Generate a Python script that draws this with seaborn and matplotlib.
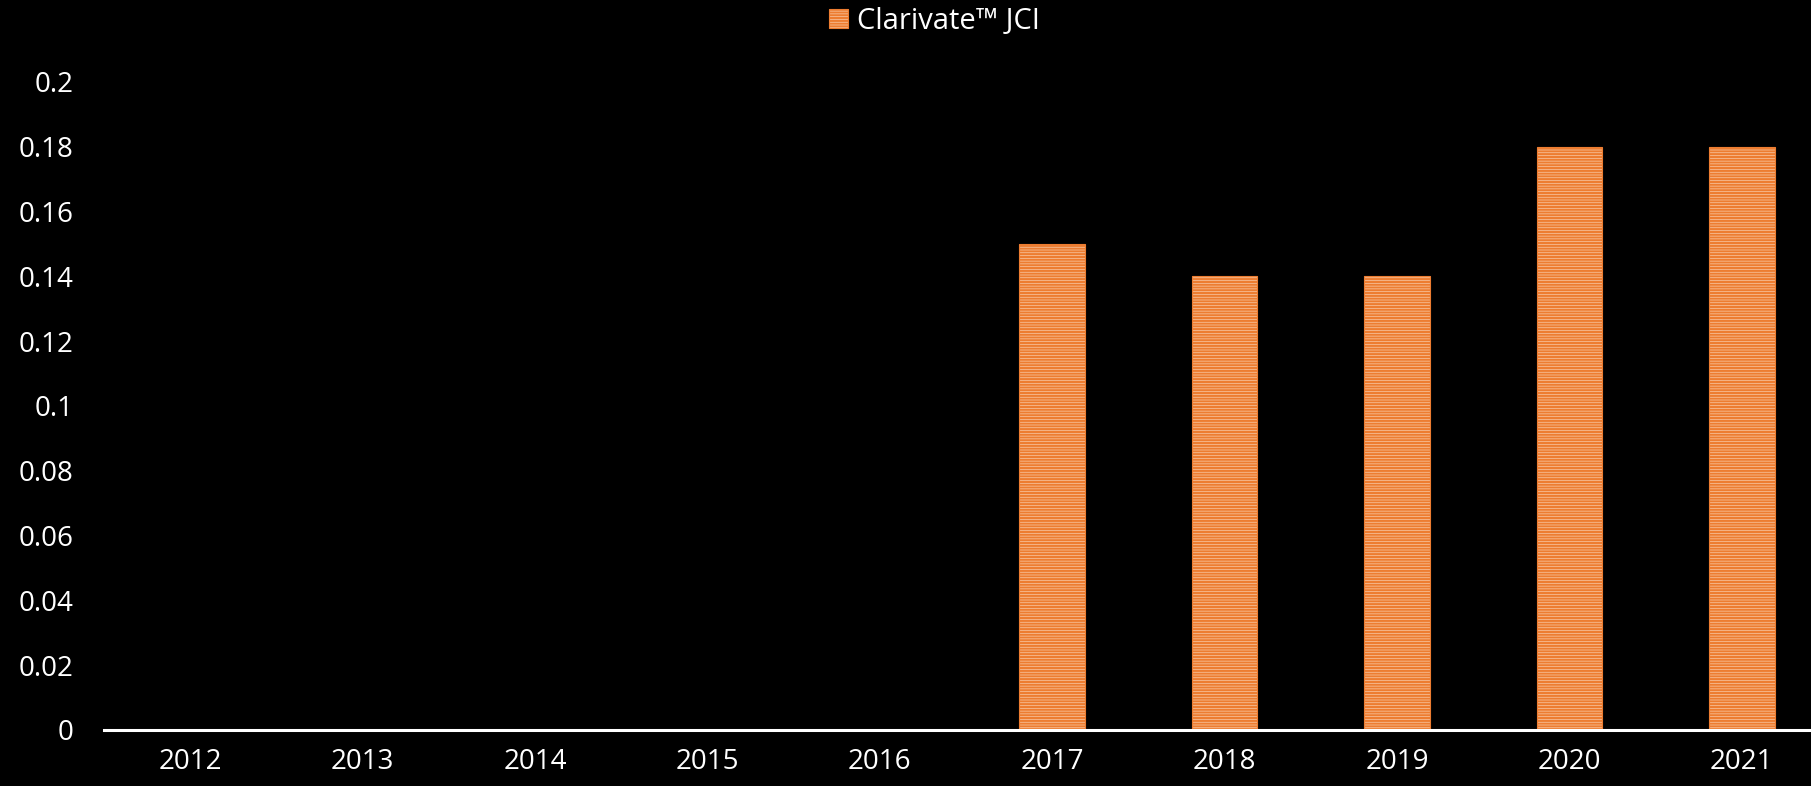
import matplotlib.pyplot as plt
import seaborn as sns
from matplotlib.ticker import FuncFormatter, MultipleLocator
from matplotlib.patches import Patch

# data
years = ["2012", "2013", "2014", "2015", "2016", "2017", "2018", "2019", "2020", "2021"]
jci = [0, 0, 0, 0, 0, 0.15, 0.14, 0.14, 0.18, 0.18]
series_name = "Clarivate\u2122 JCI"

orange = "#ED7D31"
peach = "#FBDCC4"

sns.set_style("dark")
plt.rcParams["font.family"] = ["Open Sans", "DejaVu Sans"]
plt.rcParams["hatch.color"] = orange
plt.rcParams["hatch.linewidth"] = 1.6

fig = plt.figure(figsize=(18.11, 7.86), dpi=100, facecolor="black")
ax = fig.add_axes([104 / 1811, 1 - 730 / 786, 1724 / 1811, 648 / 786])
ax.set_facecolor("black")

sns.barplot(x=years, y=jci, color=peach, width=0.38, saturation=1, ax=ax)
for p in ax.patches:
    p.set_hatch("------")
    p.set_edgecolor(orange)
    p.set_linewidth(0.8)

ax.set_ylim(0, 0.2)
ax.set_xlim(-0.5, len(years) - 0.5)
ax.yaxis.set_major_locator(MultipleLocator(0.02))
ax.yaxis.set_major_formatter(FuncFormatter(lambda v, _: "%g" % round(v, 2)))
ax.grid(False)
for s in ["top", "right", "left"]:
    ax.spines[s].set_visible(False)
ax.spines["bottom"].set_color("white")
ax.spines["bottom"].set_linewidth(2.2)
ax.tick_params(axis="both", length=0, colors="white", labelsize=20)
ax.tick_params(axis="y", pad=22)
ax.tick_params(axis="x", pad=13)
ax.set_xlabel("")
ax.set_ylabel("")

handle = Patch(facecolor=peach, edgecolor=orange, hatch="------", linewidth=0.8)
fig.legend([handle], [series_name], loc="center", bbox_to_anchor=(0.516, 0.973),
           frameon=False, fontsize=21, labelcolor="white", handlelength=0.65,
           handleheight=0.65, handletextpad=0.3)

fig.savefig("out.png", dpi=100, facecolor="black")
